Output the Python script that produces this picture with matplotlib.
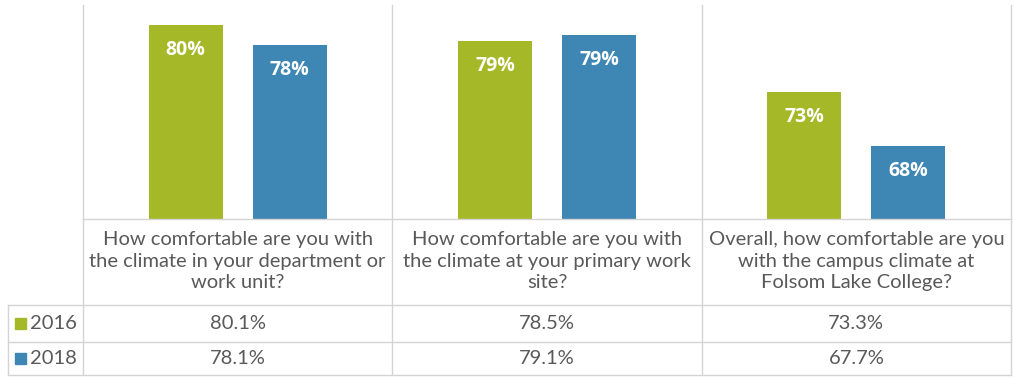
import math
import matplotlib
matplotlib.use("Agg")
import matplotlib.pyplot as plt
from matplotlib.lines import Line2D
from matplotlib.patches import Rectangle

# Survey questions (wrapped as shown in the table header)
questions = [
    "How comfortable are you with\nthe climate in your department or\nwork unit?",
    "How comfortable are you with\nthe climate at your primary work\nsite?",
    "Overall, how comfortable are you\nwith the campus climate at\nFolsom Lake College?",
]
years = ["2016", "2018"]
pct_2016 = [80.1, 78.5, 73.3]
pct_2018 = [78.1, 79.1, 67.7]

green = "#a5b827"
blue = "#3e86b3"
grid_c = "#d4d4d4"
text_c = "#595959"

plt.rcParams["font.family"] = ["Open Sans", "DejaVu Sans"]
table_font = ["Lato", "DejaVu Sans"]
table_size = 14.5

W, H = 1014, 378
fig = plt.figure(figsize=(W / 100, H / 100), dpi=100)


def fx(px):
    return px / W


def fy(py):
    return 1 - py / H


left_px, right_px = 83, 1011
top_px, base_px, bottom_px = 5, 219, 375

ax = fig.add_axes([fx(left_px), fy(base_px), fx(right_px - left_px), (base_px - top_px) / H])
x = list(range(len(questions)))
off, bw = 0.168, 0.24
series = [(pct_2016, green), (pct_2018, blue)]
for k, (vals, col) in enumerate(series):
    pos = [i + (off if k else -off) for i in x]
    bars = ax.bar(pos, vals, width=bw, color=col, zorder=2)
    for b, v in zip(bars, vals):
        ax.annotate(f"{math.floor(v + 0.5)}%", (b.get_x() + b.get_width() / 2, v),
                    xytext=(0, -18), textcoords="offset points",
                    ha="center", va="center", color="white",
                    fontsize=14, fontweight="bold")
ax.set_xlim(-0.5, 2.5)
ax.set_ylim(60.2, 82.2)
ax.axis("off")

# Table below the bars
tab = fig.add_axes([fx(0), fy(bottom_px), 1, (bottom_px - base_px) / H])
tab.set_xlim(0, W)
tab.set_ylim(bottom_px, base_px)
tab.axis("off")

col_edges = [left_px + (right_px - left_px) * i / 3 for i in range(4)]
row_lines = [305, 342, 375]
label_left = 8

# grid lines (figure coordinates so they span both panels)
for xe in col_edges:
    fig.add_artist(Line2D([fx(xe)] * 2, [fy(top_px), fy(bottom_px)], color=grid_c, lw=1))
fig.add_artist(Line2D([fx(left_px), fx(right_px)], [fy(base_px)] * 2, color=grid_c, lw=1))
for yl in row_lines:
    fig.add_artist(Line2D([fx(label_left), fx(right_px)], [fy(yl)] * 2, color=grid_c, lw=1))
fig.add_artist(Line2D([fx(label_left)] * 2, [fy(row_lines[0]), fy(row_lines[-1])], color=grid_c, lw=1))

centers = [(col_edges[i] + col_edges[i + 1]) / 2 for i in range(3)]
for cx, q in zip(centers, questions):
    tab.text(cx, 261, q, ha="center", va="center", color=text_c, fontsize=table_size,
             family=table_font, linespacing=1.3)

row_mid = [(row_lines[0] + row_lines[1]) / 2, (row_lines[1] + row_lines[2]) / 2]
for ry, yr, vals, col in zip(row_mid, years, [pct_2016, pct_2018], [green, blue]):
    tab.add_patch(Rectangle((15, ry - 5.5), 11, 11, color=col, clip_on=False))
    tab.text(30, ry, yr, ha="left", va="center", color=text_c, fontsize=table_size,
             family=table_font)
    for cx, v in zip(centers, vals):
        tab.text(cx, ry, f"{v:.1f}%", ha="center", va="center", color=text_c,
                 fontsize=table_size, family=table_font)

fig.savefig("out.png", dpi=100)
